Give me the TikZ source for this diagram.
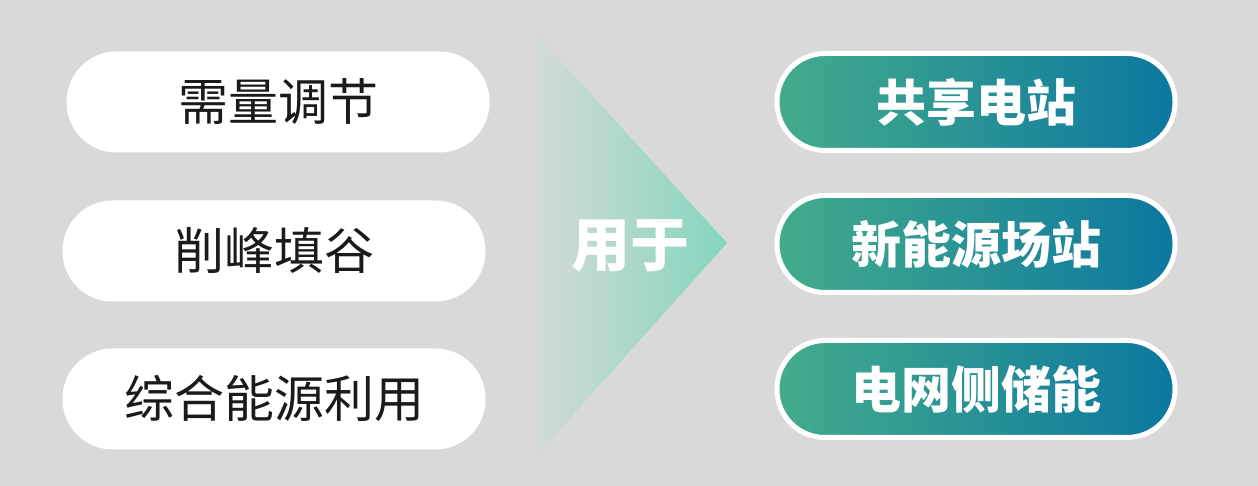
\documentclass[tikz,border=0pt]{standalone}
\usepackage{fontspec}
\newfontfamily\cjk{Noto Sans CJK SC}
\usetikzlibrary{positioning}

\definecolor{bggray}{RGB}{217,217,217}
\definecolor{textdark}{RGB}{26,26,26}
\definecolor{pillgreen}{RGB}{68,172,139}
\definecolor{pillblue}{RGB}{12,119,160}
\definecolor{trileft}{RGB}{212,218,216}
\definecolor{trigreen}{RGB}{132,214,190}

\begin{document}
\begin{tikzpicture}[x=1pt,y=1pt,node distance=149pt,
  usecase/.style={rounded corners=50pt,fill=white,inner sep=0pt,
    minimum width=423pt,minimum height=101pt,text=textdark,
    font=\cjk\fontsize{50}{50}\selectfont},
  scene/.style={rounded corners=48pt,draw=white,line width=5pt,inner sep=0pt,
    left color=pillgreen,right color=pillblue,
    minimum width=398pt,minimum height=97pt,text=white,
    font=\cjk\bfseries\fontsize{50}{50}\selectfont}]
  \useasboundingbox (0,0) rectangle (1258,486);
  \fill[bggray] (0,0) rectangle (1258,486);

  % arrow in the middle
  \shade[left color=trileft,right color=trigreen]
    (535,453) -- (727,243) -- (535,29) -- cycle;
  \node[text=white,font=\cjk\bfseries\fontsize{59}{59}\selectfont] (use) at (630,240) {用于};

  % left column
  \node[usecase] (demand) at (278,384) {需量调节};
  \node[usecase] (peak) [below of=demand,xshift=-4pt] {削峰填谷};
  \node[usecase] (multi) [below of=peak,node distance=148pt] {综合能源利用};

  % right column
  \node[scene] (shared) at (976,384) {共享电站};
  \node[scene] (newenergy) [below of=shared,node distance=142pt] {新能源场站};
  \node[scene] (grid) [below of=newenergy,node distance=145pt] {电网侧储能};
\end{tikzpicture}
\end{document}
